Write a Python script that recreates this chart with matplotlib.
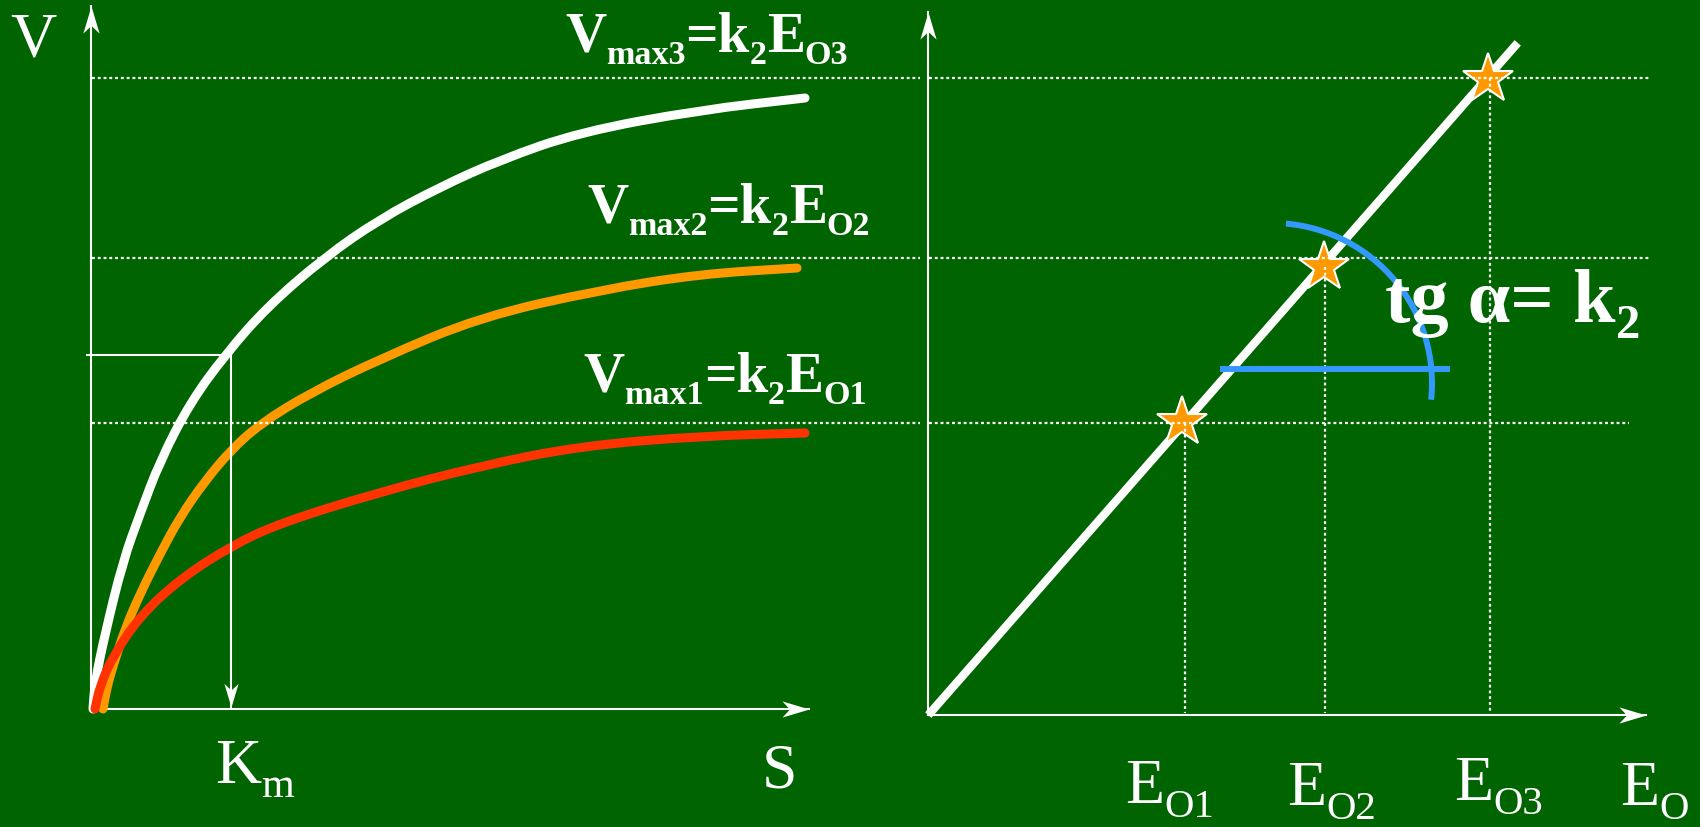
import numpy as np
import matplotlib
matplotlib.use("Agg")
import matplotlib.pyplot as plt
import matplotlib.transforms as mtransforms
from matplotlib.path import Path
from matplotlib.patches import Arc, PathPatch

BG = "#006400"
SERIF = ["Liberation Serif", "DejaVu Serif"]

# --- left panel: V against S for three enzyme amounts
white_S = [0.01, 0.03, 0.13, 0.31, 0.48, 0.68, 0.98, 1.33, 1.75, 2.33, 2.88, 3.48, 4.08, 4.88, 6.08, 7.13]
white_V = [0.00, 0.27, 0.75, 1.48, 1.95, 2.48, 3.06, 3.54, 4.02, 4.52, 4.90, 5.22, 5.49, 5.77, 5.99, 6.11]
orange_S = [0.11, 0.15, 0.21, 0.33, 0.48, 0.68, 0.88, 1.13, 1.39, 1.68, 2.18, 2.88, 3.88, 5.08, 6.08, 7.05]
orange_V = [0.00, 0.22, 0.43, 0.80, 1.15, 1.55, 1.92, 2.28, 2.59, 2.85, 3.16, 3.50, 3.92, 4.19, 4.35, 4.41]
red_S = [0.03, 0.08, 0.21, 0.48, 0.88, 1.39, 1.88, 2.88, 3.88, 4.88, 6.08, 7.13]
red_V = [0.00, 0.23, 0.53, 0.93, 1.30, 1.63, 1.86, 2.17, 2.43, 2.63, 2.73, 2.76]

vmax_levels = [2.86, 4.51, 6.31]          # Vmax1, Vmax2, Vmax3
vmax_labels = [("max1", "O1"), ("max2", "O2"), ("max3", "O3")]
vmax_label_pos = [(4.91, 3.18), (4.95, 4.87), (4.73, 6.58)]
dot_right_end = [7.0, 7.2, 7.2]           # where the dotted lines stop on the right

Km = 1.39
Km_V = 3.54

# --- right panel: Vmax against E0
line_E = [0.02, 5.86]
line_V = [-0.03, 6.63]
star_E = [2.53, 3.95, 5.59]
star_V = [2.87, 4.42, 6.30]
drop_E = [2.56, 3.96, 5.61]
drop_top = [2.86, 4.42, 6.31]
E_labels = ["O1", "O2", "O3"]
E_label_pos = [(1.96, -0.93), (3.58, -0.95), (5.25, -0.90)]

angle_line_E = [2.94, 5.18]
angle_line_V = [3.40, 3.40]
arc_center = (3.43, 3.26)
arc_diam = 3.2
arc_theta = (-6, 85)

fig = plt.figure(figsize=(17, 8.28), dpi=100, facecolor=BG)
split = 920 / 1700
axL = fig.add_axes([0, 0, split, 1])
axR = fig.add_axes([split, 0, 1 - split, 1])
axL.set_xlim(-0.92, 8.28)
axR.set_xlim(-0.09, 7.71)
for ax in (axL, axR):
    ax.set_ylim(-1.18, 7.10)
    ax.set_axis_off()
    ax.patch.set_alpha(0)

renderer = fig.canvas.get_renderer()


def arrow_head(ax, x, y, angle, size=39):
    verts = np.array([[0, 0], [-1, 0.3], [-0.72, 0], [-1, -0.3], [0, 0]])
    a = np.deg2rad(angle)
    rot = np.array([[np.cos(a), -np.sin(a)], [np.sin(a), np.cos(a)]])
    ax.plot(x, y, marker=Path(verts @ rot.T), markersize=size, color="white",
            markeredgewidth=0, clip_on=False, zorder=6)


def smooth_curve(ax, xs, ys, color, lw=6.5):
    # quadratic bezier through the read points (points act as control points)
    pts = np.column_stack([xs, ys])
    mids = (pts[1:] + pts[:-1]) / 2
    verts = [pts[0], mids[0]]
    codes = [Path.MOVETO, Path.LINETO]
    for i in range(1, len(pts) - 1):
        verts += [pts[i], mids[i]]
        codes += [Path.CURVE3, Path.CURVE3]
    verts.append(pts[-1])
    codes.append(Path.LINETO)
    ax.add_patch(PathPatch(Path(verts, codes), fill=False, edgecolor=color, lw=lw,
                           capstyle="round", joinstyle="round", zorder=3))


def sub_text(ax, x, y, parts, size, weight="normal", scale=0.62, drop=0.22):
    # lay out text pieces one after another, subscripts smaller and lower
    dx = 0.0
    for s, low in parts:
        fs = size * scale if low else size
        dy = -drop * size if low else 0.0
        tr = mtransforms.offset_copy(ax.transData, fig=fig, x=dx, y=dy, units="points")
        t = ax.text(x, y, s, transform=tr, fontsize=fs, fontweight=weight, color="white",
                    family=SERIF, ha="left", va="baseline", zorder=7)
        dx += t.get_window_extent(renderer).width * 72 / fig.dpi


# ---------------- left panel
axL.plot([-0.01, -0.01], [0, 7.03], color="white", lw=1.5)
arrow_head(axL, -0.01, 7.03, 90)
axL.plot([-0.01, 7.17], [0, 0], color="white", lw=1.5)
arrow_head(axL, 7.17, 0, 0)

for v in vmax_levels:
    axL.plot([0, 8.28], [v, v], color="white", lw=1.6, ls=(0, (1.3, 1.3)), zorder=4,
             clip_on=False)

smooth_curve(axL, white_S, white_V, "white")
smooth_curve(axL, orange_S, orange_V, "#FF9900")
smooth_curve(axL, red_S, red_V, "#FF3300")

axL.plot([-0.05, Km], [Km_V, Km_V], color="white", lw=1.5, zorder=5)
axL.plot([Km, Km], [Km_V, 0.02], color="white", lw=1.5, zorder=5)
arrow_head(axL, Km, 0.02, -90, size=34)

axL.text(-0.59, 6.53, "V", fontsize=46, color="white", family=SERIF, ha="center", va="baseline")
axL.text(6.88, -0.78, "S", fontsize=46, color="white", family=SERIF, ha="center", va="baseline")
sub_text(axL, 1.23, -0.73, [("K", False), ("m", True)], 46, scale=0.66)

for (vs, es), (x, y) in zip(vmax_labels, vmax_label_pos):
    sub_text(axL, x, y, [("V", False), (vs, True), ("=k", False), ("2", True),
                         ("E", False), (es, True)], 41, weight="bold", scale=0.6, drop=0.21)

# ---------------- right panel
axR.plot([-0.01, -0.01], [-0.06, 6.97], color="white", lw=1.5)
arrow_head(axR, -0.01, 6.97, 90)
axR.plot([-0.01, 7.17], [-0.06, -0.06], color="white", lw=1.5)
arrow_head(axR, 7.17, -0.06, 0)

for v, xe in zip(vmax_levels, dot_right_end):
    axR.plot([0, xe], [v, v], color="white", lw=1.6, ls=(0, (1.3, 1.3)), zorder=4)
for e, top in zip(drop_E, drop_top):
    axR.plot([e, e], [top, -0.04], color="white", lw=1.6, ls=(0, (1.3, 1.3)), zorder=4)

axR.plot(line_E, line_V, color="white", lw=6, zorder=2)
axR.plot(star_E, star_V, ls="none", marker="*", markersize=38, markerfacecolor="#FF9900",
         markeredgecolor="white", markeredgewidth=1.5, zorder=3)

axR.plot(angle_line_E, angle_line_V, color="#3399FF", lw=4.3, zorder=5)
axR.add_patch(Arc(arc_center, arc_diam, arc_diam, theta1=arc_theta[0], theta2=arc_theta[1],
                  color="#3399FF", lw=4.3, zorder=5))

sub_text(axR, 4.56, 3.88, [("tg α= k", False), ("2", True)], 55, weight="bold", scale=0.64, drop=0.21)

for lab, (x, y) in zip(E_labels, E_label_pos):
    sub_text(axR, x, y, [("E", False), (lab, True)], 46, scale=0.64)
sub_text(axR, 6.91, -0.95, [("E", False), ("O", True)], 46, scale=0.64)

fig.savefig("out.png", dpi=100, facecolor=BG)
